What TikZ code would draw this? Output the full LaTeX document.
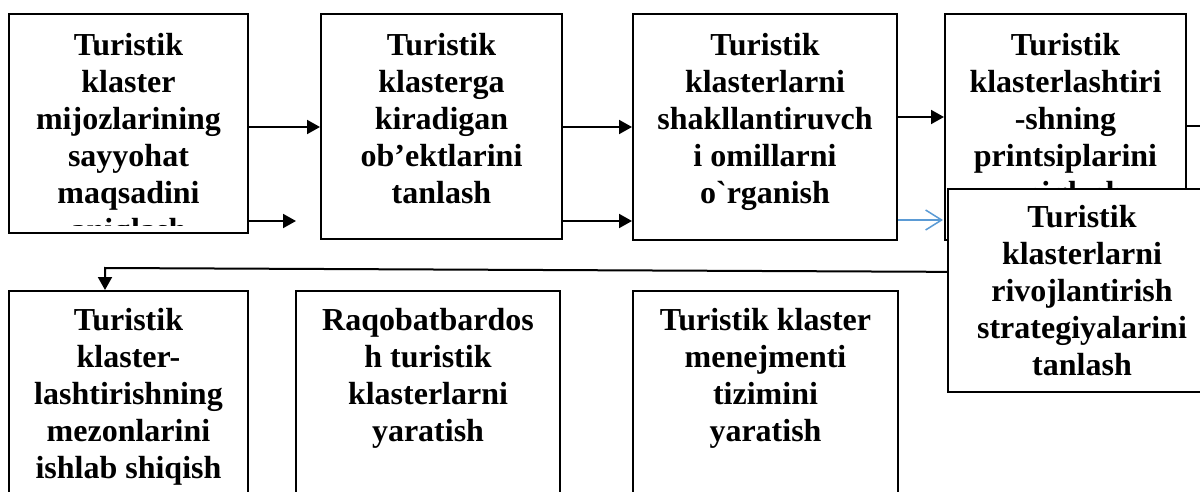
\documentclass[tikz,border=0pt]{standalone}
\usepackage{fontspec}
\setmainfont{Liberation Serif}[Ligatures=TeXOff]
\usetikzlibrary{arrows.meta}
\definecolor{bluec}{RGB}{91,155,213}
\begin{document}
\begin{tikzpicture}[x=0.5pt,y=-0.5pt,
  box/.style={draw,line width=1pt,fill=white,inner sep=0pt},
  txt/.style={anchor=north,align=center,inner sep=0pt,font=\fontsize{16pt}{18.5pt}\selectfont\bfseries},
  arr/.style={line width=1pt,-{Triangle[length=6.5pt,width=7pt]}},
  bluearr/.style={line width=0.75pt,draw=bluec,-{Straight Barb[length=8pt,width=10pt]}},
  conn/.style={line width=1pt}]
\useasboundingbox (0,0) rectangle (1200,492);
\begin{scope}
\clip (0,0) rectangle (1200,492);
% top row
\node[box,minimum width=119.5pt,minimum height=109.5pt] (b1) at (128.5,123.5) {};
\begin{scope}
\clip (9,14) rectangle (248,225);
\node[txt] (t1) at (128.5,33) {Turistik\\klaster\\mijozlarining\\sayyohat\\maqsadini\\aniqlash};
\end{scope}
\node[box,minimum width=120.5pt,minimum height=112.5pt] (b2) at (441.5,126.5) {};
\node[txt] (t2) at (441.5,33) {Turistik\\klasterga\\kiradigan\\ob’ektlarini\\tanlash};
\node[box,minimum width=132pt,minimum height=113pt] (b3) at (765,127) {};
\node[txt] (t3) at (765,33) {Turistik\\klasterlarni\\shakllantiruvch\\i omillarni\\o`rganish};
\node[box,minimum width=120.5pt,minimum height=113pt] (b4) at (1065.5,127) {};
\node[txt] (t4) at (1065.5,33) {Turistik\\klasterlashtiri\\-shning\\printsiplarini\\aniqlash};
% bottom row
\node[box,minimum width=119.5pt,minimum height=114.5pt] (b6) at (128.5,405.5) {};
\node[txt] (t6) at (128.5,308) {Turistik\\klaster-\\lashtirishning\\mezonlarini\\ishlab shiqish};
\node[box,minimum width=132pt,minimum height=114.5pt] (b7) at (428,405.5) {};
\node[txt] (t7) at (428,308) {Raqobatbardos\\h turistik\\klasterlarni\\yaratish};
\node[box,minimum width=132.5pt,minimum height=114.5pt] (b8) at (765.5,405.5) {};
\node[txt] (t8) at (765.5,308) {Turistik klaster\\menejmenti\\tizimini\\yaratish};
% connectors
\coordinate (r1) at (0,127);
\coordinate (r2) at (0,221);
\coordinate (r3) at (0,117);
\coordinate (r4) at (0,220);
\coordinate (e2) at (296,221);
\coordinate (e7) at (1200,126);
\coordinate (e6) at (943,220);
\coordinate (f1) at (1200,273);
\coordinate (f2) at (105,268);
\draw[arr] (b1.east |- r1) -- (b2.west |- r1);
\draw[arr] (b1.east |- r2) -- (e2);
\draw[arr] (b2.east |- r1) -- (b3.west |- r1);
\draw[arr] (b2.east |- r2) -- (b3.west |- r2);
\draw[arr] (b3.east |- r3) -- (b4.west |- r3);
\draw[bluearr] (b3.east |- r4) -- (e6);
\draw[conn] (b4.east |- e7) -- (e7);
\draw[arr] (f1) -- (f2) -- (f2 |- b6.north);
% overlapping box
\node[box,minimum width=134pt,minimum height=101.5pt] (b5) at (1082,290.5) {};
\node[txt] (t5) at (1082,205) {Turistik\\klasterlarni\\rivojlantirish\\strategiyalarini\\tanlash};
\end{scope}
\end{tikzpicture}
\end{document}
